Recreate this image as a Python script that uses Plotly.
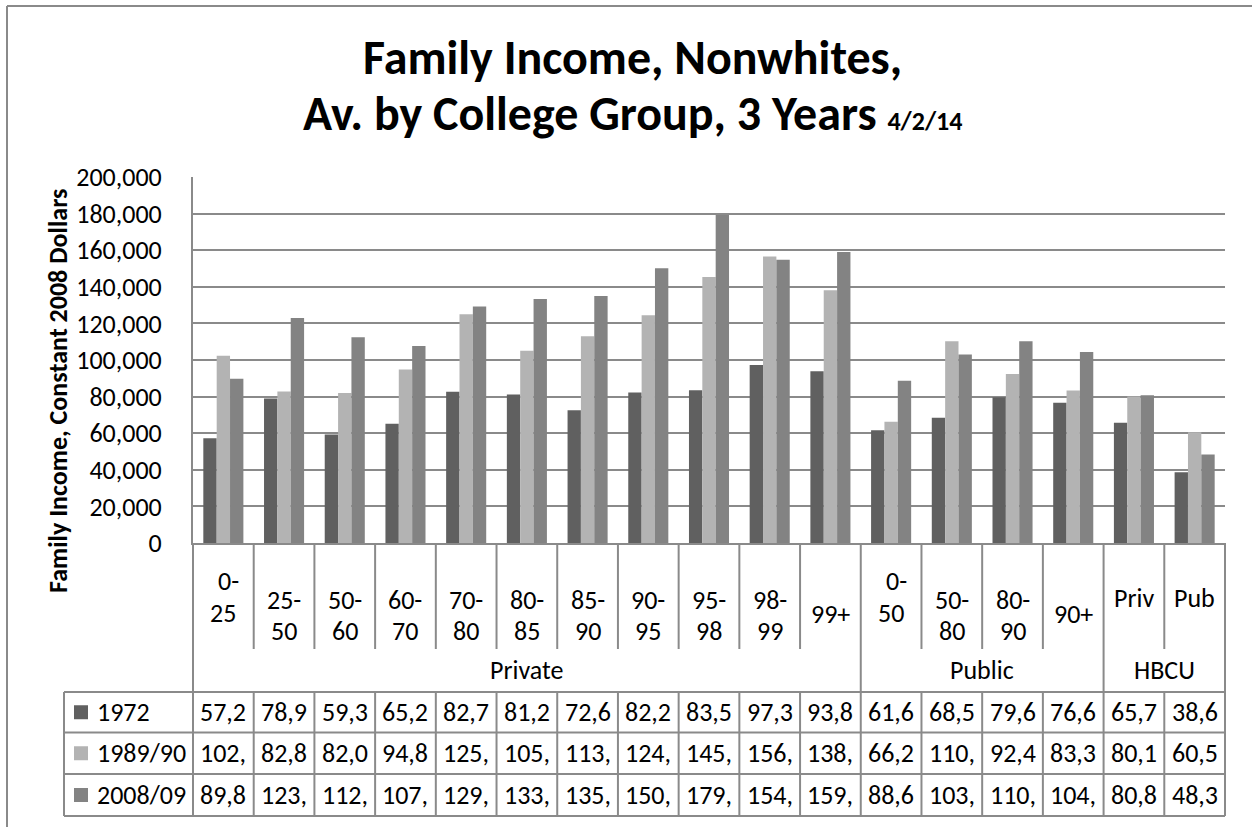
import plotly.graph_objects as go

# ---- data -------------------------------------------------------------
categories = ["0-25", "25-50", "50-60", "60-70", "70-80", "80-85", "85-90",
              "90-95", "95-98", "98-99", "99+",
              "0-50", "50-80", "80-90", "90+",
              "Priv", "Pub"]
groups = ["Private"] * 11 + ["Public"] * 4 + ["HBCU"] * 2

series_names = ["1972", "1989/90", "2008/09"]
income_1972 = [57200, 78900, 59300, 65200, 82700, 81200, 72600, 82200, 83500,
               97300, 93800, 61600, 68500, 79600, 76600, 65700, 38600]
income_1989 = [102300, 82800, 82000, 94800, 125000, 105100, 113000, 124400,
               145400, 156500, 138100, 66200, 110200, 92400, 83300, 80100, 60500]
income_2008 = [89800, 123000, 112400, 107600, 129300, 133300, 135000, 150100,
               179200, 154800, 159000, 88600, 103000, 110200, 104400, 80800, 48300]
series_values = [income_1972, income_1989, income_2008]

y_ticks = list(range(0, 200001, 20000))

# ---- styling ----------------------------------------------------------
colors = ["#606060", "#b3b3b3", "#838383"]
line_col = "#8a8a8a"
FONT = "Carlito, Calibri, Lato, sans-serif"
W, H = 1252, 827
PLOT_L, PLOT_R, PLOT_T, PLOT_B = 193, 1225, 177, 543
N = len(categories)
LW = 2


def px(x):
    """pixel x -> paper x"""
    return (x - PLOT_L) / (PLOT_R - PLOT_L)


def py(y):
    """pixel y -> paper y"""
    return (PLOT_B - y) / (PLOT_B - PLOT_T)


fig = go.Figure()
for name, vals, col in zip(series_names, series_values, colors):
    fig.add_trace(go.Bar(x=list(range(N)), y=vals, name=name,
                         marker=dict(color=col, line=dict(width=0))))

shapes = []
annotations = []


def seg(x0, y0, x1, y1, width=LW):
    shapes.append(dict(type="line", xref="paper", yref="paper",
                       x0=x0, x1=x1, y0=y0, y1=y1,
                       line=dict(color=line_col, width=width)))


# outer chart frame (left and top edges)
seg(px(7), py(6), px(7), py(900))
seg(px(7), py(6), px(1300), py(6))

# table layout (pixel rows)
ROW_CAT_BOT = 649
ROW_HDR_BOT = 692
ROW_LINES = [692, 732.5, 774, 816]
TABLE_LEFT = 64

for i in range(N + 1):
    xp = i / N
    if i == 0 or i == N or groups[i] != groups[i - 1]:
        seg(xp, py(PLOT_B), xp, py(ROW_LINES[-1]))
    else:
        seg(xp, py(PLOT_B), xp, py(ROW_CAT_BOT))
        seg(xp, py(ROW_HDR_BOT), xp, py(ROW_LINES[-1]))

for y in ROW_LINES:
    seg(px(TABLE_LEFT), py(y), px(PLOT_R), py(y))
seg(px(TABLE_LEFT), py(ROW_LINES[0]), px(TABLE_LEFT), py(ROW_LINES[-1]))

txt_font = dict(family=FONT, size=26, color="black")


def label(x, y, text, xanchor="center", xshift=0, font=txt_font):
    annotations.append(dict(xref="paper", yref="paper", x=x, y=y, text=text,
                            showarrow=False, font=font, xanchor=xanchor,
                            yanchor="middle", xshift=xshift))


# category labels (wrapped after the hyphen)
for i, cat in enumerate(categories):
    xc = (i + 0.5) / N
    if "-" in cat:
        first, second = cat.split("-")
        if first == "0":
            y1, y2, shift = 581, 613, 5
        else:
            y1, y2, shift = 600, 631, 0
        label(xc, py(y1), first + "-", xshift=shift)
        label(xc, py(y2), second)
    else:
        yc = 614 if cat[0].isdigit() else 598
        label(xc, py(yc), cat)

# group labels
start = 0
for i in range(1, N + 1):
    if i == N or groups[i] != groups[start]:
        label((start + i) / 2 / N, py(670), groups[start])
        start = i

# data table rows
for r, (name, vals, col) in enumerate(zip(series_names, series_values, colors)):
    yc = (ROW_LINES[r] + ROW_LINES[r + 1]) / 2
    shapes.append(dict(type="rect", xref="paper", yref="paper",
                       x0=px(74), x1=px(88), y0=py(yc - 7), y1=py(yc + 7),
                       fillcolor=col, line=dict(width=0)))
    label(px(95), py(yc), name, xanchor="left")
    for i, v in enumerate(vals):
        label((i + 0.5) / N, py(yc), f"{v:,}"[:4])

# titles
title_font = dict(family=FONT, size=48, color="black")
label(px(632), py(57), "<b>Family Income, Nonwhites,</b>", font=title_font)
label(px(632), py(114),
      "<b>Av. by College Group, 3 Years "
      "<span style='font-size:26px'>4/2/14</span></b>", font=title_font)
annotations.append(dict(xref="paper", yref="paper", x=px(58), y=py(391),
                        text="<b>Family Income, Constant 2008 Dollars</b>",
                        textangle=-90, showarrow=False,
                        font=dict(family=FONT, size=26, color="black"),
                        xanchor="center", yanchor="middle"))

fig.update_layout(
    width=W, height=H,
    margin=dict(l=PLOT_L, r=W - PLOT_R, t=PLOT_T, b=H - PLOT_B, pad=0),
    paper_bgcolor="white", plot_bgcolor="white",
    barmode="group", bargap=0.34, bargroupgap=0,
    showlegend=False,
    shapes=shapes, annotations=annotations,
    font=dict(family=FONT, size=26, color="black"),
)
fig.update_xaxes(range=[-0.5, N - 0.5], showticklabels=False, ticks="",
                 showgrid=False, zeroline=False,
                 showline=True, linecolor=line_col, linewidth=LW)
fig.update_yaxes(range=[0, 200000], tickvals=y_ticks, tickformat=",",
                 showgrid=True, gridcolor=line_col, gridwidth=LW,
                 zeroline=False, showline=True, linecolor=line_col, linewidth=LW,
                 ticks="", ticklabelstandoff=24,
                 tickfont=dict(family=FONT, size=26, color="black"))

fig.write_html("out.html")
